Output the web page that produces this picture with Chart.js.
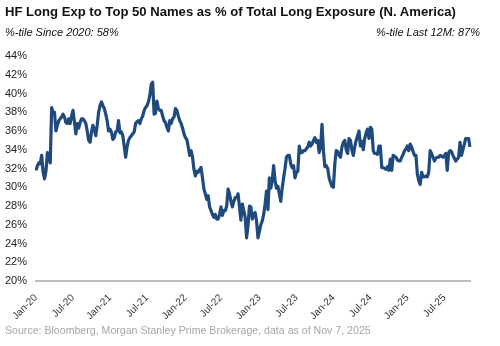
<!DOCTYPE html>
<html>
<head>
<meta charset="UTF-8">
<title>HF Long Exp to Top 50 Names</title>
<script src="https://cdn.jsdelivr.net/npm/chart.js@4.4.1/dist/chart.umd.min.js"></script>
<style>
    body { margin: 0; background: #fff; font-family: "Liberation Sans", Arial, sans-serif; }
    #wrap { position: relative; width: 500px; height: 346px; }
    #title { position: absolute; left: 5px; top: 4px; font-weight: bold; font-size: 13.1px; color: #111; white-space: nowrap; }
    .sub { position: absolute; top: 26px; font-style: italic; font-size: 11px; color: #111; white-space: nowrap; }
    #subL { left: 5px; }
    #subR { right: 20px; }
    #source { position: absolute; left: 5px; top: 324px; font-size: 10.6px; color: #a6a6a6; white-space: nowrap; }
    canvas { position: absolute; left: 0; top: 0; }
</style>
</head>
<body>
<div id="wrap">
    <canvas id="myChart" width="500" height="346"></canvas>
    <div id="title">HF Long Exp to Top 50 Names as % of Total Long Exposure (N. America)</div>
    <div class="sub" id="subL">%-tile Since 2020: 58%</div>
    <div class="sub" id="subR">%-tile Last 12M: 87%</div>
    <div id="source">Source: Bloomberg, Morgan Stanley Prime Brokerage, data as of Nov 7, 2025</div>
</div>
<script>
    // weekly readings (Fridays), % of total long exposure
    const v2020 = [31.8, 32.3, 32.6, 32.5, 33.4, 31.6, 30.9, 31.7, 33.7, 33.4, 32.6, 38.5, 38.0, 38.0, 36.0, 36.6,
        37.1, 37.3, 37.5, 37.8, 37.5, 36.9, 36.8, 37.3, 36.8, 37.6, 38.2, 37.0, 35.7, 36.8, 36.3, 36.9,
        37.3, 37.3, 37.1, 36.8, 36.0, 35.0, 34.8, 35.9, 36.6, 36.2, 35.5, 36.6, 38.0, 38.7, 39.1, 38.7,
        38.4, 37.8, 37.1, 36.0];
    const v2021 = [36.2, 35.9, 35.1, 35.3, 35.9, 36.0, 37.1, 35.8, 35.9, 35.5, 34.4, 33.2, 34.3, 35.0, 35.3, 35.5,
        35.7, 35.9, 36.8, 37.0, 37.1, 36.8, 37.3, 37.6, 38.2, 38.5, 38.7, 39.1, 39.8, 41.0, 41.2, 37.8,
        37.9, 39.2, 38.4, 38.2, 38.2, 37.6, 37.1, 36.9, 36.4, 36.0, 37.1, 36.8, 37.3, 37.5, 38.4, 38.2,
        37.6, 37.1, 36.8, 36.3, 35.7];
    const v2022 = [35.3, 35.1, 34.3, 33.4, 33.9, 33.2, 31.9, 31.2, 31.7, 31.6, 31.9, 32.1, 31.0, 29.8, 29.3, 28.7,
        29.1, 27.9, 27.5, 27.1, 26.8, 27.1, 26.6, 26.6, 27.1, 27.9, 27.0, 27.5, 27.5, 28.0, 29.8, 29.3,
        28.5, 27.9, 28.5, 28.9, 28.9, 29.3, 27.9, 26.5, 28.2, 27.5, 26.8, 24.6, 25.9, 28.0, 27.9, 26.6,
        27.1, 27.3, 26.4, 24.6];
    const v2023 = [25.3, 26.0, 26.4, 27.1, 28.2, 29.6, 27.6, 31.0, 29.9, 30.7, 32.3, 30.7, 29.9, 30.1, 29.3, 28.5,
        29.9, 31.0, 32.0, 33.2, 33.4, 33.4, 32.5, 32.1, 32.3, 31.0, 31.6, 31.7, 34.4, 33.7, 33.7, 33.9,
        33.9, 34.1, 34.3, 34.8, 34.4, 34.6, 35.0, 35.3, 34.8, 35.0, 33.7, 34.3, 36.7, 33.9, 32.2, 32.3,
        32.0, 31.0, 30.5, 30.1];
    const v2024 = [30.0, 32.5, 33.9, 33.8, 33.4, 33.2, 34.3, 34.8, 35.0, 34.0, 33.6, 35.2, 35.0, 34.0, 33.4, 34.3,
        35.0, 35.5, 36.0, 34.4, 34.9, 34.0, 35.2, 35.8, 36.2, 35.2, 36.4, 36.2, 33.9, 33.6, 33.6, 33.5,
        34.4, 34.4, 32.1, 32.1, 32.0, 31.9, 32.2, 31.8, 33.0, 31.8, 33.4, 33.3, 33.2, 32.9, 32.8, 32.8,
        33.2, 33.5, 33.9, 34.1];
    const v2025 = [34.4, 33.9, 34.6, 34.3, 33.8, 33.4, 33.4, 31.4, 30.7, 30.3, 31.6, 31.1, 31.1, 31.2, 31.1, 31.6,
        33.9, 33.6, 33.2, 32.8, 33.1, 33.2, 33.2, 33.4, 33.3, 33.2, 33.4, 33.6, 31.8, 33.7, 33.9, 33.8,
        33.4, 33.1, 32.8, 33.0, 33.2, 34.8, 33.4, 34.0, 34.6, 35.2, 35.2, 35.2, 34.3];
    const tickLabels = ['Jan-20', 'Jul-20', 'Jan-21', 'Jul-21', 'Jan-22', 'Jul-22',
        'Jan-23', 'Jul-23', 'Jan-24', 'Jul-24', 'Jan-25', 'Jul-25'];

    const values = [].concat(v2020, v2021, v2022, v2023, v2024, v2025);
    const firstWeek = new Date(2020, 0, 3);
    const weeks = values.map((v, i) => {
        const d = new Date(firstWeek);
        d.setDate(d.getDate() + 7 * i);
        return d;
    });
    const labelFor = d => {
        if (d.getDate() > 7 || (d.getMonth() !== 0 && d.getMonth() !== 6)) return null;
        const s = (d.getMonth() === 0 ? 'Jan' : 'Jul') + '-' + String(d.getFullYear()).slice(2);
        return tickLabels.includes(s) ? s : null;
    };

    const font = 'Liberation Sans, Arial, sans-serif';
    let ctx = document.getElementById('myChart').getContext('2d');
    let myChart = new Chart(ctx, {
        type: 'line',
        data: {
            labels: weeks.map(d => d.toISOString().slice(0, 10)),
            datasets: [{
                data: values,
                borderColor: '#1f4a7e',
                borderWidth: 3.2,
                pointRadius: 0,
                tension: 0,
                borderJoinStyle: 'round'
            }]
        },
        options: {
            responsive: false,
            animation: false,
            layout: { padding: { left: 0, top: 56, right: 30, bottom: 0 } },
            plugins: { legend: { display: false }, tooltip: { enabled: false } },
            scales: {
                x: {
                    grid: { display: false },
                    border: { color: '#bdbdbd', width: 2 },
                    afterFit: s => { s.height = 65; },
                    ticks: {
                        autoSkip: false,
                        minRotation: 45,
                        maxRotation: 45,
                        padding: 3,
                        color: '#333',
                        font: { family: font, size: 10 },
                        callback: (v, i) => labelFor(weeks[i])
                    }
                },
                y: {
                    min: 20,
                    max: 44,
                    grid: { display: false },
                    border: { display: false },
                    afterFit: s => { s.width = 36; },
                    ticks: {
                        stepSize: 2,
                        padding: 1,
                        color: '#222',
                        font: { family: font, size: 11 },
                        callback: v => v + '%'
                    }
                }
            }
        }
    });
</script>
</body>
</html>
